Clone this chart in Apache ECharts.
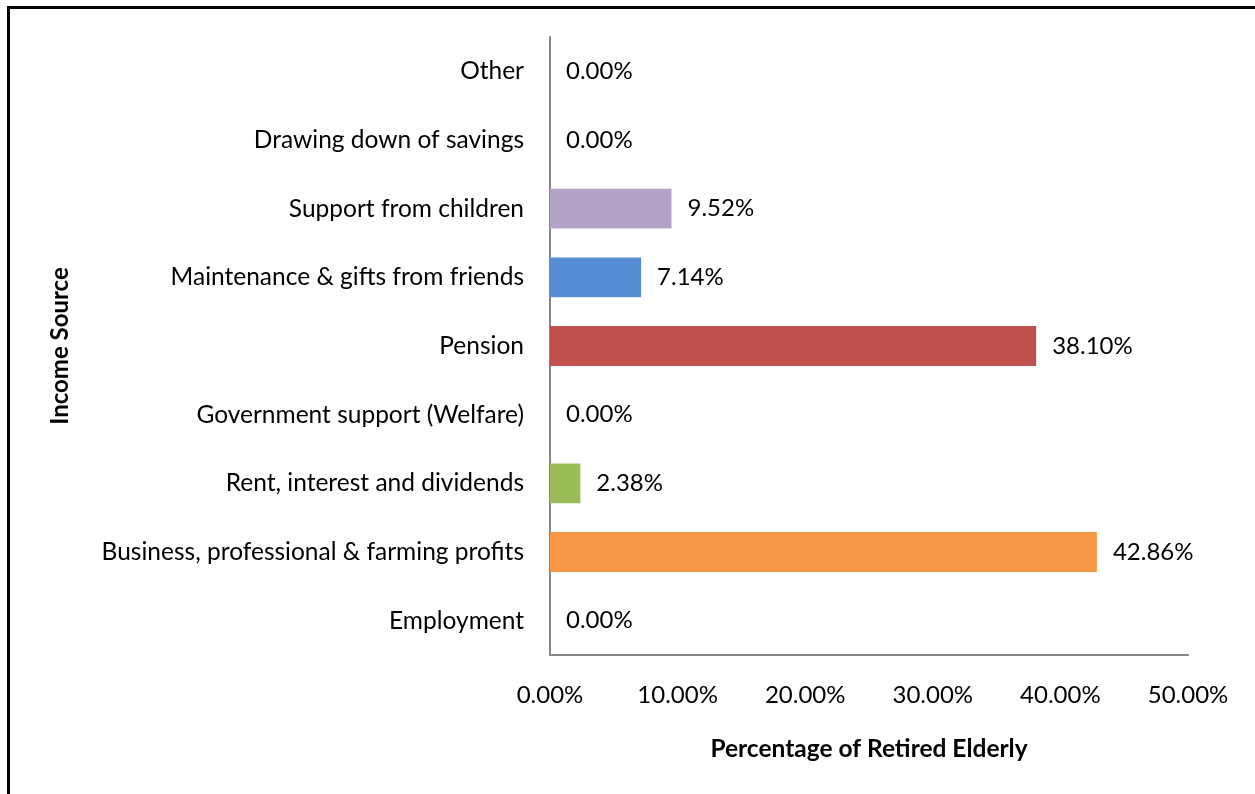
<!DOCTYPE html>
<html>
<head>
<meta charset="utf-8">
<script src="https://cdn.jsdelivr.net/npm/echarts@6/dist/echarts.min.js"></script>
<style>
html,body{margin:0;padding:0;background:#fff;}
#c{width:1255px;height:794px;}
</style>
</head>
<body>
<div id="c"></div>
<script>
const categories = [
  "Employment",
  "Business, professional & farming profits",
  "Rent, interest and dividends",
  "Government support (Welfare)",
  "Pension",
  "Maintenance & gifts from friends",
  "Support from children",
  "Drawing down of savings",
  "Other"
];
const values = [0.00, 42.86, 2.38, 0.00, 38.10, 7.14, 9.52, 0.00, 0.00];
const barColors = ["#F79646", "#F79646", "#9BBB59", "#9BBB59", "#C0504D", "#558ED5", "#B3A2C7", "#B3A2C7", "#B3A2C7"];
const xTicks = [0, 10, 20, 30, 40, 50];
const xTitle = "Percentage of Retired Elderly";
const yTitle = "Income Source";

const FONT = "Lato";
const chart = echarts.init(document.getElementById('c'), null, {renderer: 'canvas'});
chart.setOption({
  animation: false,
  backgroundColor: '#fff',
  textStyle: {fontFamily: FONT},
  graphic: [{
    type: 'rect', silent: true,
    shape: {x: 8.5, y: 7.5, width: 1400, height: 1000},
    style: {fill: 'none', stroke: '#000', lineWidth: 3}
  }],
  grid: {left: 550, right: 67, top: 37, bottom: 139, containLabel: false},
  xAxis: {
    type: 'value', min: xTicks[0], max: xTicks[xTicks.length - 1], interval: 10,
    name: xTitle, nameLocation: 'middle', nameGap: 82,
    nameTextStyle: {fontFamily: FONT, fontWeight: 'bold', fontSize: 24.5, color: '#000'},
    axisLine: {show: true, lineStyle: {color: '#868686', width: 2}},
    axisTick: {show: false},
    splitLine: {show: false},
    axisLabel: {color: '#000', fontSize: 24, fontFamily: FONT, margin: 28,
      formatter: v => v.toFixed(2) + '%'}
  },
  yAxis: {
    type: 'category', data: categories,
    name: yTitle, nameLocation: 'middle', nameGap: 478, nameRotate: 90,
    nameTextStyle: {fontFamily: FONT, fontWeight: 'bold', fontSize: 24, color: '#000'},
    axisLine: {show: true, lineStyle: {color: '#868686', width: 2}},
    axisTick: {show: false},
    axisLabel: {color: '#000', fontSize: 24.5, fontFamily: FONT, margin: 26}
  },
  series: [{
    type: 'bar',
    data: values.map((v, i) => ({value: v, itemStyle: {color: barColors[i]}})),
    barCategoryGap: '42%',
    label: {show: true, position: 'right', distance: 16, color: '#000', fontSize: 24, fontFamily: FONT,
      formatter: p => p.value.toFixed(2) + '%'}
  }]
});
</script>
</body>
</html>
